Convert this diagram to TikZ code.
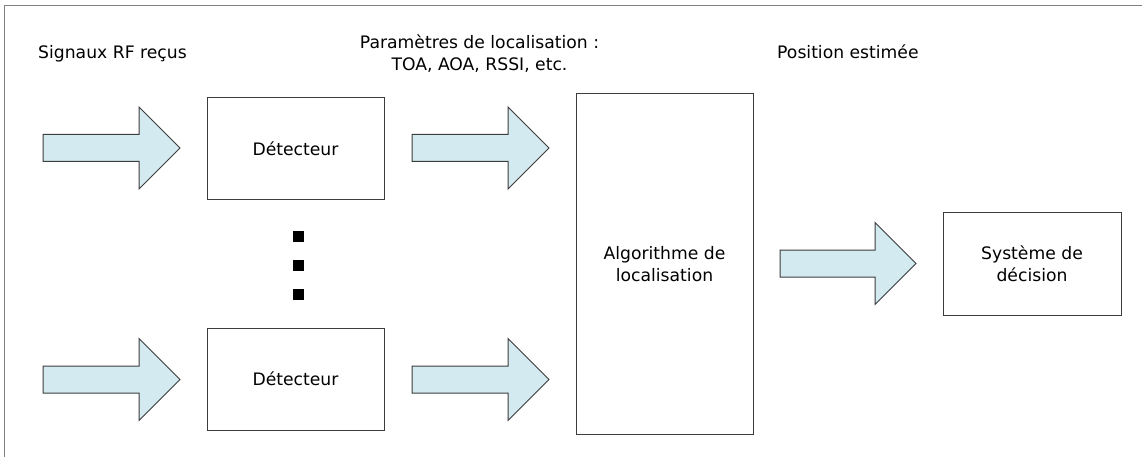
\documentclass[tikz,border=0pt]{standalone}
\usepackage{fontspec}
\setmainfont{DejaVu Sans}
\usetikzlibrary{calc}
\definecolor{arrowblue}{RGB}{210,234,240}
\definecolor{boxline}{RGB}{60,60,60}
\definecolor{frameline}{RGB}{128,128,128}
\newcommand\blkarrow[2]{%
  \draw[blockarrow] ($(#1)+(0,13.5)$) -- ($(#2)+(-41,13.5)$) -- ($(#2)+(-41,41)$)
    -- (#2) -- ($(#2)+(-41,-41)$) -- ($(#2)+(-41,-13.5)$) -- ($(#1)+(0,-13.5)$) -- cycle;}
\begin{document}
\begin{tikzpicture}[x=1pt,y=-1pt,
  every node/.style={font=\fontsize{17.2}{21.7}\selectfont},
  block/.style={draw=boxline, line width=1pt, fill=white, inner sep=0pt, align=center},
  blockarrow/.style={draw=boxline, line width=1pt, fill=arrowblue, line join=miter},
  label/.style={inner sep=0pt, align=center},
  dotsq/.style={fill=black, minimum size=11pt, inner sep=0pt}]
\useasboundingbox (0,0) rectangle (1142,457);
% frame
\draw[frameline, line width=1.3pt] (4.5,457) -- (4.5,5.5) -- (1142,5.5);
% boxes
\node[block, minimum width=177pt, minimum height=101pt] (det1) at (295.5,148.5) {Détecteur};
\node[block, minimum width=177pt, minimum height=102pt] (det2) at (295.5,379) {Détecteur};
\node[block, minimum width=177pt, minimum height=340pt] (algo) at (664.5,264) {Algorithme de\\localisation};
\node[block, minimum width=178pt, minimum height=103pt] (dec) at (1032,263.5) {Système de\\décision};
% dots
\node[dotsq] (d1) at (298.5,236.5) {};
\node[dotsq] (d2) at (298.5,265.5) {};
\node[dotsq] (d3) at (298.5,294.5) {};
% labels
\node[label, anchor=base west] (lsig) at (38,58.3) {Signaux RF reçus};
\node[label] (lpar) at (479.5,53.5) {Paramètres de localisation :\\TOA, AOA, RSSI, etc.};
\node[label, anchor=base west] (lpos) at (777,58.3) {Position estimée};
% block arrows
\coordinate (a1s) at (43,148);   \coordinate (a1t) at (180,148);
\coordinate (a2s) at (412,148);  \coordinate (a2t) at (549,148);
\coordinate (a3s) at (780,263.5);\coordinate (a3t) at (916,263.5);
\coordinate (a4s) at (43,379.5); \coordinate (a4t) at (180,379.5);
\coordinate (a5s) at (412,379.5);\coordinate (a5t) at (549,379.5);
\blkarrow{a1s}{a1t}
\blkarrow{a2s}{a2t}
\blkarrow{a3s}{a3t}
\blkarrow{a4s}{a4t}
\blkarrow{a5s}{a5t}
\end{tikzpicture}
\end{document}
